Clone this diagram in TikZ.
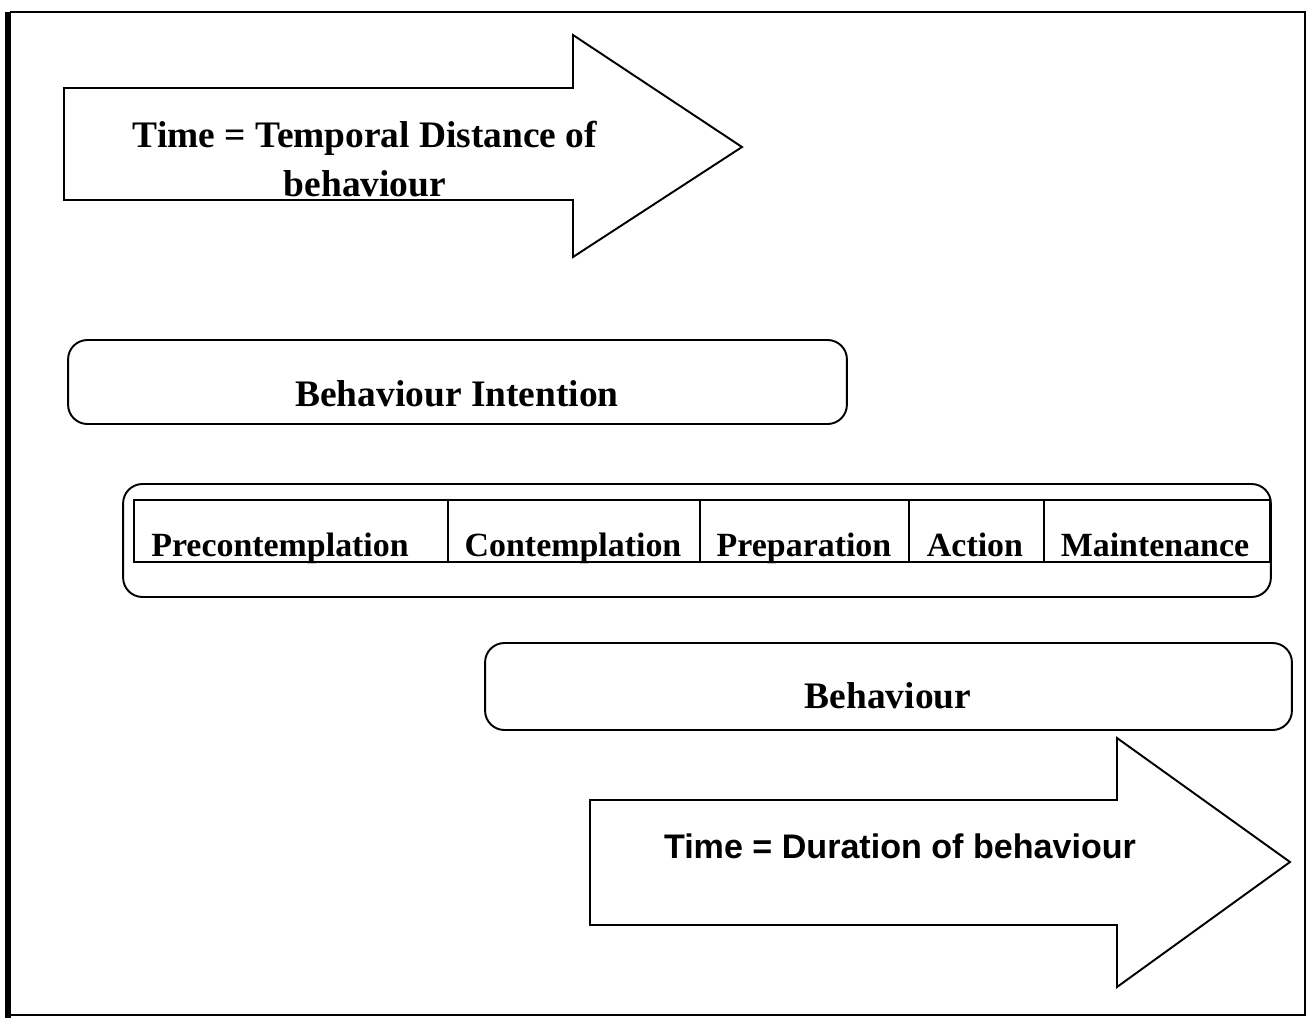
\documentclass[tikz,border=0pt]{standalone}
\usepackage{fontspec}
\setmainfont{Liberation Serif}
\newfontfamily\arialfont{Liberation Sans}
\usetikzlibrary{positioning}

\tikzset{
  stagebox/.style={draw,line width=1.1pt,rounded corners=11pt,inner sep=0pt},
  bigarrow/.style={draw,line width=1.1pt,line join=miter},
  lbl/.style={font=\bfseries\fontsize{21.3}{24}\selectfont,inner sep=0pt,anchor=base},
  celllbl/.style={font=\bfseries\fontsize{19.3}{22}\selectfont,inner sep=0pt,anchor=base},
  sanslbl/.style={font=\arialfont\bfseries\fontsize{19.4}{22}\selectfont,inner sep=0pt,anchor=base},
}

\begin{document}
\begin{tikzpicture}[x=0.02cm,y=-0.02cm]
  \useasboundingbox (0,0) rectangle (1309,1018);
  % outer frame
  \draw[line width=1pt] (10,12) -- (1305,12) -- (1305,1015) -- (10,1015);
  \draw[line width=3pt] (8,12) -- (8,1018);

  % time arrow: temporal distance
  \draw[bigarrow] (64,88) -- (573,88) -- (573,35) -- (742,147)
    -- (573,257) -- (573,200) -- (64,200) -- cycle;
  \node[lbl] (tempo1) at (365,147) {Time = Temporal Distance of};
  \node[lbl] (tempo2) at (365,196) {behaviour};

  % intention
  \node[stagebox,minimum width=15.58cm,minimum height=1.68cm] (intentbox) at (457.5,382) {};
  \node[lbl] (intent) at (457,406) {Behaviour Intention};

  % stages of change
  \node[stagebox,minimum width=22.96cm,minimum height=2.26cm] (stagesbox) at (697,540.5) {};
  \draw[line width=1pt] (134,500) rectangle (1270,562);
  \foreach \x in {448,700,909,1044}
    \draw[line width=1pt] (\x,500) -- (\x,562);
  \foreach \x/\name/\txt in {280/precon/Precontemplation,573/contem/Contemplation,
      804/prep/Preparation,975/act/Action,1155/maint/Maintenance}
    \node[celllbl] (\name) at (\x,556) {\txt};

  % behaviour
  \node[stagebox,minimum width=16.14cm,minimum height=1.74cm] (behavbox) at (888.5,686.5) {};
  \node[lbl] (behav) at (888,708) {Behaviour};

  % time arrow: duration
  \draw[bigarrow] (590,800) -- (1117,800) -- (1117,738) -- (1290,862)
    -- (1117,987) -- (1117,925) -- (590,925) -- cycle;
  \node[sanslbl] (dura) at (900,858) {Time = Duration of behaviour};
\end{tikzpicture}
\end{document}
